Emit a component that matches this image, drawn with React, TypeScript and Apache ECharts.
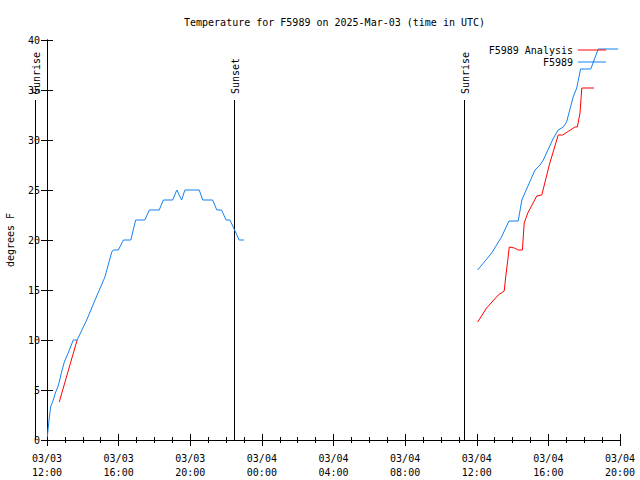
import React, { useEffect, useRef } from "react";
import * as echarts from "echarts";

const titleText = "Temperature for F5989 on 2025-Mar-03 (time in UTC)";
const yAxisName = "degrees F";
const xTickLabels = [
  "03/03\n12:00", "03/03\n16:00", "03/03\n20:00", "03/04\n00:00", "03/04\n04:00",
  "03/04\n08:00", "03/04\n12:00", "03/04\n16:00", "03/04\n20:00",
];

// F5989 observations, 2025-03-03
const obsDay1Times = [
  "12:01", "12:04", "12:08", "12:12", "12:21", "12:28", "12:36", "12:41", "12:49", "12:58",
  "13:11", "13:28", "13:41", "14:13", "14:41", "15:14", "15:37", "15:42", "15:59", "16:16",
  "16:41", "16:57", "17:28", "17:43", "18:16", "18:30", "19:01", "19:15", "19:31", "19:42",
  "20:30", "20:42", "21:15", "21:29", "21:45", "22:00", "22:13", "22:44", "23:00",
];
const obsDay1Temps = [
  0.3, 1.2, 2.3, 3.3, 4, 4.7, 5.3, 5.8, 6.8, 7.8,
  8.7, 10, 10, 12, 14, 16.3, 18.8, 19, 19, 20,
  20, 22, 22, 23, 23, 24, 24, 25, 24, 25,
  25, 24, 24, 23, 23, 22, 22, 20, 20,
];
// F5989 observations, 2025-03-04
const obsDay2Times = [
  "12:03", "12:50", "13:23", "13:48", "14:19", "14:31", "14:53", "15:15", "15:32", "15:43",
  "16:17", "16:33", "16:50", "17:01", "17:23", "17:35", "17:48", "18:22", "18:47", "19:54",
];
const obsDay2Temps = [
  17, 18.7, 20.3, 21.9, 21.9, 24, 25.5, 27, 27.5, 28,
  30.2, 31, 31.3, 31.8, 34.3, 35.2, 37.1, 37.1, 39.1, 39.1,
];

// F5989 Analysis
const anaDay1Times = ["12:41", "13:41"];
const anaDay1Temps = [3.8, 10];
const anaDay2Times = [
  "12:03", "12:33", "13:12", "13:32", "13:37", "13:44", "13:49", "14:06", "14:19", "14:33",
  "14:39", "14:51", "15:21", "15:38", "16:03", "16:33", "16:48", "17:29", "17:37", "17:46",
  "17:52", "18:33",
];
const anaDay2Temps = [
  11.8, 13.2, 14.5, 14.9, 16.3, 18, 19.3, 19.2, 19, 19,
  21.7, 22.7, 24.4, 24.5, 27.5, 30.5, 30.5, 31.3, 31.3, 32.7,
  35.2, 35.2,
];

const sunNames = ["Sunrise", "Sunset", "Sunrise"];
const sunDays = [3, 3, 4];
const sunTimes = ["11:20", "22:28", "11:17"];
const sunLineTop = 34;

const FONT = '"DejaVu Sans Mono", "Liberation Mono", monospace';

function toHours(day: number, t: string): number {
  const [hh, mm] = t.split(":").map(Number);
  return (day - 3) * 24 + hh + mm / 60 - 12;
}

function build(d1t: string[], d1v: number[], d2t: string[], d2v: number[]) {
  const a: any[] = d1t.map((t, i) => [toHours(3, t), d1v[i]]);
  a.push([16, "-"]);
  d2t.forEach((t, i) => a.push([toHours(4, t), d2v[i]]));
  return a;
}

export default function App() {
  const ref = useRef<HTMLDivElement>(null);
  useEffect(() => {
    document.body.style.margin = "0";
    const chart = echarts.init(ref.current!, null, { renderer: "svg" });
    const axisLine = { show: true, lineStyle: { color: "#000", width: 1 } };
    const xCommon = {
      type: "value",
      min: 0,
      max: 32,
      interval: 4,
      axisLine,
      axisTick: { show: true, inside: true, length: 6, lineStyle: { color: "#000" } },
      minorTick: { show: true, splitNumber: 4, length: 3, lineStyle: { color: "#000" } },
      splitLine: { show: false },
    };
    const yCommon = {
      type: "value",
      min: 0,
      max: 40,
      interval: 5,
      axisLine,
      axisTick: { show: true, inside: true, length: 6, lineStyle: { color: "#000" } },
      splitLine: { show: false },
    };
    chart.setOption({
      animation: false,
      backgroundColor: "#fff",
      title: {
        text: titleText,
        left: 179,
        top: 12,
        textStyle: { fontFamily: FONT, fontSize: 10, fontWeight: "normal", color: "#000" },
      },
      legend: {
        data: ["F5989 Analysis", "F5989"],
        orient: "vertical",
        align: "right",
        right: 29,
        top: 40,
        icon: "rect",
        itemWidth: 28,
        itemHeight: 1,
        itemGap: 2,
        textStyle: { fontFamily: FONT, fontSize: 10, color: "#000" },
      },
      grid: {
        left: 47,
        right: 20,
        top: 40,
        bottom: 40,
        containLabel: false,
        outerBoundsMode: "none",
      },
      xAxis: [
        {
          ...xCommon,
          position: "bottom",
          axisLabel: {
            fontFamily: FONT,
            fontSize: 10,
            color: "#000",
            lineHeight: 14,
            margin: 11,
            formatter: (v: number) => xTickLabels[Math.round(v / 4)] ?? "",
          },
        },
        { ...xCommon, position: "top", axisLabel: { show: false } },
      ],
      yAxis: [
        {
          ...yCommon,
          position: "left",
          name: yAxisName,
          nameLocation: "middle",
          nameRotate: 90,
          nameGap: 32,
          nameTextStyle: { fontFamily: FONT, fontSize: 10, color: "#000" },
          axisLabel: { fontFamily: FONT, fontSize: 10, color: "#000", margin: 7 },
        },
        { ...yCommon, position: "right", axisLabel: { show: false } },
      ],
      series: [
        {
          name: "F5989 Analysis",
          type: "line",
          symbol: "none",
          connectNulls: false,
          color: "#ff0000",
          lineStyle: { color: "#ff0000", width: 1 },
          data: build(anaDay1Times, anaDay1Temps, anaDay2Times, anaDay2Temps),
        },
        {
          name: "F5989",
          type: "line",
          symbol: "none",
          connectNulls: false,
          color: "#1580f0",
          lineStyle: { color: "#1580f0", width: 1 },
          data: build(obsDay1Times, obsDay1Temps, obsDay2Times, obsDay2Temps),
        },
      ],
    });

    const graphics: any[] = [];
    const yTop = Math.round(chart.convertToPixel({ yAxisIndex: 0 }, sunLineTop) as number);
    const yBot = Math.round(chart.convertToPixel({ yAxisIndex: 0 }, 0) as number);
    sunNames.forEach((name, i) => {
      const px = Math.round(chart.convertToPixel({ xAxisIndex: 0 }, toHours(sunDays[i], sunTimes[i])) as number) + 0.5;
      graphics.push({
        type: "line",
        silent: true,
        shape: { x1: px, y1: yTop, x2: px, y2: yBot },
        style: { stroke: "#000", lineWidth: 1 },
      });
      graphics.push({
        type: "text",
        silent: true,
        x: px + 1,
        y: yTop - 6,
        rotation: Math.PI / 2,
        style: {
          text: name,
          fill: "#000",
          font: `10px ${FONT}`,
          align: "left",
          verticalAlign: "middle",
        },
      });
    });
    chart.setOption({ graphic: graphics });

    return () => chart.dispose();
  }, []);
  return <div ref={ref} style={{ width: 640, height: 480 }} />;
}
